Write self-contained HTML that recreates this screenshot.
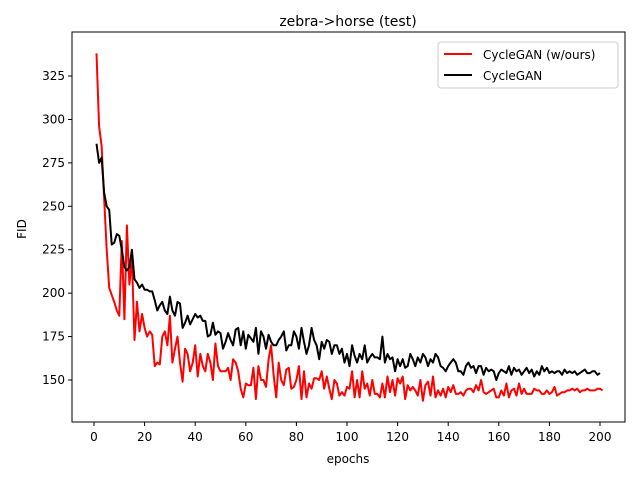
<!DOCTYPE html>
<html><head><meta charset="utf-8"><style>
body{margin:0;background:#fff;font-family:"Liberation Sans","DejaVu Sans",sans-serif;}
svg text{font-family:"DejaVu Sans","Liberation Sans",sans-serif;}
</style></head><body>
<svg id="chart" width="640" height="480" xmlns="http://www.w3.org/2000/svg">
<rect width="640" height="480" fill="#fff"/>
<text x="348" y="26" font-size="14" text-anchor="middle">zebra-&gt;horse (test)</text>
<g id="grid"></g>
<g id="series"></g>
<rect x="72" y="32" width="553" height="390" fill="none" stroke="#000" stroke-width="1"/>
<text x="348" y="463" font-size="12" text-anchor="middle">epochs</text>
<text x="26" y="229" font-size="12" text-anchor="middle" transform="rotate(-90 26 229)">FID</text>
<g>
<rect x="438" y="42" width="180" height="46" rx="3" fill="#fff" stroke="#ccc"/>
<line x1="444" y1="54" x2="472" y2="54" stroke="red" stroke-width="2"/>
<text x="483" y="59" font-size="12">CycleGAN (w/ours)</text>
<line x1="444" y1="75" x2="472" y2="75" stroke="#000" stroke-width="2"/>
<text x="483" y="80" font-size="12">CycleGAN</text>
</g>
</svg>
<script>
const xTicks=[0,20,40,60,80,100,120,140,160,180,200];
const yTicks=[150,175,200,225,250,275,300,325];
const oursFID=[338,296,285,255,225,203,199,195,190,187,230,185,239,205,220,173,195,178,188,180,175,178,176,158,160,159,175,178,170,187,160,168,175,160,149,168,165,155,160,170,152,165,158,155,165,160,150,171,158,155,155,155,157,150,162,160,155,145,140,148,147,147,157,139,158,150,150,146,162,170,153,140,160,150,147,156,157,145,146,150,158,139,155,140,148,145,151,151,150,155,145,152,145,139,150,148,141,143,141,146,145,155,140,150,140,155,145,148,141,150,142,142,140,148,140,152,143,150,141,151,148,152,139,147,144,146,144,141,150,138,147,149,141,152,140,144,141,145,140,146,143,147,142,142,143,141,144,145,145,143,147,144,150,143,142,143,144,145,140,140,144,141,148,140,144,145,141,148,142,145,142,142,142,145,144,144,142,142,144,142,143,146,141,142,143,143,144,144,145,144,145,143,144,144,145,144,144,144,145,145,144];
const baseFID=[286,275,278,258,250,248,228,229,234,233,225,215,213,215,225,208,206,203,205,202,202,201,201,196,190,193,195,190,188,198,190,187,195,194,180,183,187,182,185,188,186,187,184,184,175,176,183,176,178,177,168,172,177,173,170,179,180,170,178,168,176,174,172,180,165,178,175,168,176,172,170,170,173,175,178,167,170,170,178,175,168,180,172,165,170,180,173,170,162,172,168,173,172,165,170,170,165,168,160,165,158,170,164,160,165,162,170,160,163,165,163,163,162,175,160,165,162,163,155,162,158,162,157,158,165,162,158,163,160,165,163,158,162,160,165,163,158,157,155,158,160,162,160,155,155,153,158,160,157,158,154,158,158,153,157,155,156,155,150,154,156,155,154,158,153,157,155,156,153,155,157,154,156,152,155,153,158,155,157,154,155,154,155,155,153,156,154,155,154,155,153,154,155,156,154,154,155,155,153,154];
const svg=document.getElementById('chart'),grid=document.getElementById('grid'),ser=document.getElementById('series');
const NS='http://www.w3.org/2000/svg';
function xs(v){return 94+v*2.53;}
function ys(v){return 380-(v-150)*1.737;}
xTicks.forEach(t=>{
  const l=document.createElementNS(NS,'line');
  
  
  l.setAttribute('x1',xs(t));l.setAttribute('x2',xs(t));l.setAttribute('y1',422);l.setAttribute('y2',426);l.setAttribute('stroke','#000');
  grid.appendChild(l);
  const tx=document.createElementNS(NS,'text');
  
  
  tx.setAttribute('x',xs(t));tx.setAttribute('y',441);tx.setAttribute('font-size','12');tx.setAttribute('text-anchor','middle');
  tx.textContent=t;grid.appendChild(tx);
});
yTicks.forEach(t=>{
  const l=document.createElementNS(NS,'line');
  
  
  l.setAttribute('x1',68);l.setAttribute('x2',72);l.setAttribute('y1',ys(t));l.setAttribute('y2',ys(t));l.setAttribute('stroke','#000');
  grid.appendChild(l);
  const tx=document.createElementNS(NS,'text');
  
  
  tx.setAttribute('x',65);tx.setAttribute('y',ys(t)+4);tx.setAttribute('font-size','12');tx.setAttribute('text-anchor','end');
  tx.textContent=t;grid.appendChild(tx);
});
function line(data,color,name){
  const p=document.createElementNS(NS,'polyline');
  
  
  p.setAttribute('points',data.map((v,i)=>xs(i+1).toFixed(1)+','+ys(v).toFixed(1)).join(' '));
  p.setAttribute('fill','none');p.setAttribute('stroke',color);p.setAttribute('stroke-width','2');p.setAttribute('stroke-linejoin','round');
  ser.appendChild(p);
}
line(oursFID,'red','ours-line');
line(baseFID,'#000','cyclegan-line');
</script>
</body></html>
